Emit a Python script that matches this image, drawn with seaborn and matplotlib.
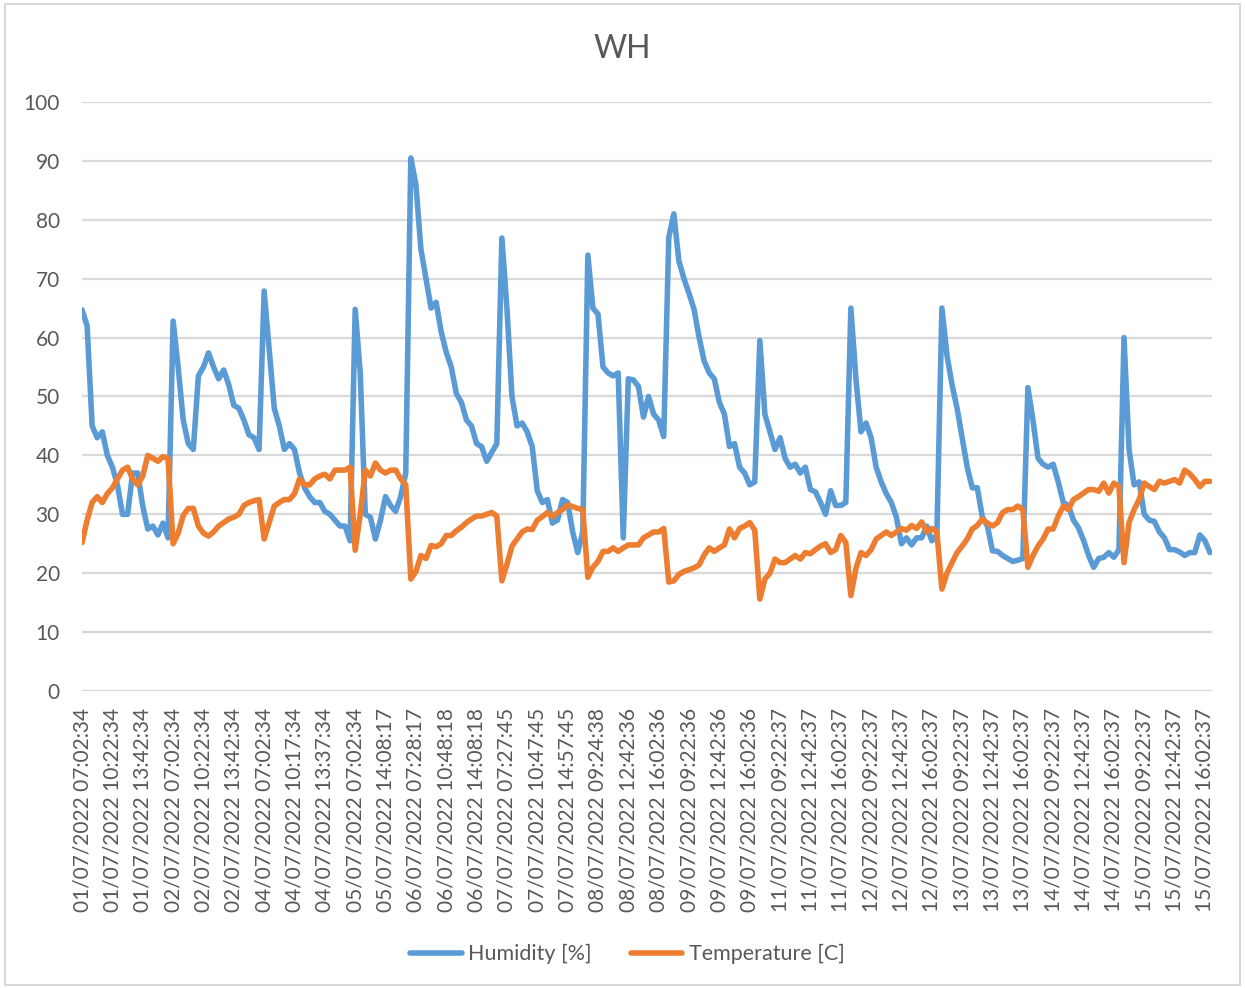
import numpy as np
import pandas as pd
import seaborn as sns
import matplotlib.pyplot as plt
from matplotlib.patches import Rectangle

# category labels shown on the x axis (one every 6 samples below)
tick_labels = [
    '01/07/2022 07:02:34', '01/07/2022 10:22:34', '01/07/2022 13:42:34',
    '02/07/2022 07:02:34', '02/07/2022 10:22:34', '02/07/2022 13:42:34',
    '04/07/2022 07:02:34', '04/07/2022 10:17:34', '04/07/2022 13:37:34',
    '05/07/2022 07:02:34', '05/07/2022 14:08:17', '06/07/2022 07:28:17',
    '06/07/2022 10:48:18', '06/07/2022 14:08:18', '07/07/2022 07:27:45',
    '07/07/2022 10:47:45', '07/07/2022 14:57:45', '08/07/2022 09:24:38',
    '08/07/2022 12:42:36', '08/07/2022 16:02:36', '09/07/2022 09:22:36',
    '09/07/2022 12:42:36', '09/07/2022 16:02:36', '11/07/2022 09:22:37',
    '11/07/2022 12:42:37', '11/07/2022 16:02:37', '12/07/2022 09:22:37',
    '12/07/2022 12:42:37', '12/07/2022 16:02:37', '13/07/2022 09:22:37',
    '13/07/2022 12:42:37', '13/07/2022 16:02:37', '14/07/2022 09:22:37',
    '14/07/2022 12:42:37', '14/07/2022 16:02:37', '15/07/2022 09:22:37',
    '15/07/2022 12:42:37', '15/07/2022 16:02:37',
]
SAMPLES_PER_LABEL = 6

# values
humidity = [
    64.7, 62, 45, 43, 44, 40, 38, 35, 30, 30, 37, 37, 31.4, 27.5, 28, 26.5, 28.5, 26,
    62.8, 55, 46, 42, 41, 53.5, 55, 57.4, 55, 53, 54.5, 52, 48.5, 48, 46, 43.5, 43, 41,
    67.9, 58, 48, 45, 41, 42, 41, 37, 34.5, 33, 32, 32, 30.5, 30, 29, 28, 28, 25.5,
    64.8, 54, 30, 29.5, 25.8, 29, 33, 31.5, 30.5, 33, 37,
    90.5, 86, 75, 70, 65, 66, 61, 57.5, 55, 50.5, 49, 46, 45, 42, 41.5, 39, 40.5, 42,
    76.9, 65, 50, 45, 45.5, 44, 41.5, 34, 32, 32.5, 28.5, 29, 32.5, 32, 27, 23.5, 27,
    74, 65, 64, 55, 54, 53.5, 54, 26, 53, 52.8, 51.7, 46.5, 50, 47, 46, 43.2,
    77, 81, 73, 70, 67.5, 64.8, 60, 56, 54, 53, 49, 47, 41.5, 42, 38, 37, 35, 35.5,
    59.5, 47, 44, 41, 43, 39.5, 38, 38.5, 37, 38, 34.2, 33.8, 32, 30, 34, 31.5, 31.5, 32,
    65, 53, 44, 45.5, 43, 38, 35.5, 33.5, 32, 29.5, 25, 26, 24.8, 26, 26, 28, 25.5, 26.5,
    65, 57, 52, 48, 43, 38, 34.5, 34.5, 29.5, 28, 23.8, 23.7, 23, 22.5, 22, 22.2, 22.5,
    51.5, 46, 39.5, 38.5, 38, 38.5, 35.5, 32, 31.5, 29, 27.7, 25.6, 23, 21, 22.5, 22.7,
    23.5, 22.7, 24,
    60, 41, 35, 35.5, 30, 29, 28.8, 27, 26, 24, 24, 23.6, 23, 23.5, 23.5, 26.5, 25.5, 23.5,
]
temperature = [
    25.2, 29, 32, 33, 32, 33.5, 34.5, 36, 37.5, 38, 36, 35, 36.5, 40, 39.5, 39, 39.8, 39.5,
    25, 26.8, 29.8, 31, 31, 28, 26.8, 26.3, 27, 28, 28.6, 29.2, 29.5, 30, 31.5, 32, 32.3, 32.5,
    25.8, 28.6, 31.4, 32, 32.5, 32.5, 33.5, 36, 35, 35, 36, 36.5, 36.8, 36, 37.5, 37.5, 37.5, 38,
    23.9, 30, 37.5, 36.5, 38.7, 37.5, 37, 37.5, 37.5, 36, 35,
    19, 20.3, 23, 22.5, 24.7, 24.5, 25, 26.4, 26.4, 27.2, 27.8, 28.6, 29.2, 29.7, 29.7, 30,
    30.3, 29.7,
    18.7, 21.5, 24.6, 25.8, 27, 27.5, 27.4, 29, 29.6, 30.3, 29.6, 30.3, 30.8, 31.6, 31.3, 31,
    30.8,
    19.3, 21, 22, 23.7, 23.7, 24.3, 23.7, 24.3, 24.8, 24.8, 24.8, 26, 26.5, 27, 27, 27.6,
    18.5, 18.7, 19.8, 20.3, 20.6, 20.9, 21.4, 23.1, 24.3, 23.7, 24.3, 24.8, 27.5, 26, 27.6,
    28, 28.6, 27.3,
    15.6, 19, 20, 22.4, 21.8, 21.8, 22.4, 23, 22.4, 23.5, 23.3, 24, 24.6, 25, 23.5, 24, 26.4,
    25.2,
    16.2, 20.8, 23.5, 23, 24, 25.8, 26.4, 27, 26.4, 27, 27.6, 27.3, 28.1, 27.6, 28.7, 27,
    27.6, 27,
    17.3, 20, 21.8, 23.5, 24.6, 25.8, 27.5, 28.1, 29.2, 28.5, 28, 28.6, 30.3, 30.8, 30.8,
    31.4, 30.8,
    21, 23, 24.6, 25.8, 27.5, 27.5, 29.7, 31.4, 30.8, 32.5, 33, 33.6, 34.2, 34.2, 33.9, 35.3,
    33.6, 35.3, 34.7,
    21.8, 28.6, 30.8, 32.5, 35.3, 34.7, 34.2, 35.6, 35.3, 35.6, 35.9, 35.3, 37.5, 36.9, 35.9,
    34.7, 35.6, 35.6,
]

sns.set_style('white')
plt.rcParams['font.family'] = ['Lato', 'DejaVu Sans']

idx = np.arange(len(humidity))
df = pd.concat([
    pd.DataFrame({'idx': idx, 'value': humidity, 'series': 'Humidity [%]'}),
    pd.DataFrame({'idx': idx, 'value': temperature, 'series': 'Temperature [C]'}),
])

fig = plt.figure(figsize=(12.45, 9.88), dpi=100)
ax = fig.add_axes([0.0659, 0.3006, 0.9076, 0.5962])

sns.lineplot(data=df, x='idx', y='value', hue='series',
             palette=['#5B9BD5', '#ED7D31'], linewidth=4.0,
             solid_joinstyle='round', solid_capstyle='round', ax=ax)

handles, labels = ax.get_legend_handles_labels()
ax.get_legend().remove()

ax.set_xlim(0, len(humidity) - 0.6)
ax.set_ylim(0, 100)
ax.set_yticks(range(0, 101, 10))
ax.set_xticks(np.arange(len(tick_labels)) * SAMPLES_PER_LABEL)
ax.set_xticklabels(tick_labels, rotation=90)
ax.set_xlabel('')
ax.set_ylabel('')

ax.yaxis.grid(True, color='#D9D9D9', linewidth=1.6)
ax.xaxis.grid(False)
ax.set_axisbelow(True)
for s in ax.spines.values():
    s.set_visible(False)
ax.tick_params(axis='both', length=0, labelsize=15, labelcolor='#595959')
ax.tick_params(axis='y', pad=16)
ax.tick_params(axis='x', pad=12)

fig.text(0.5, 0.941, 'WH', ha='center', va='baseline', fontsize=23, color='#595959')

fig.legend(handles, labels, loc='center', bbox_to_anchor=(0.504, 0.034), ncol=2,
           frameon=False, fontsize=15.5, handlelength=2.4, handletextpad=0.3,
           columnspacing=1.8, labelcolor='#595959')

fig.patches.append(Rectangle((0.004, 0.003), 0.992, 0.993, transform=fig.transFigure,
                             fill=False, edgecolor='#D9D9D9', linewidth=1.5))

fig.savefig('out.png', dpi=100)
